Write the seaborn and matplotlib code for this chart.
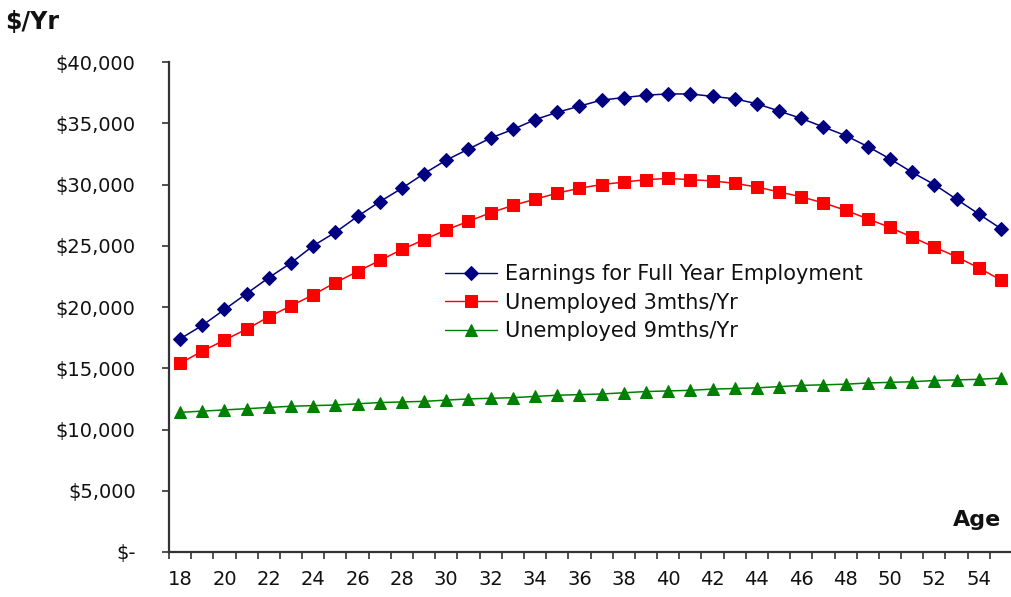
import matplotlib
matplotlib.use("Agg")
import matplotlib.pyplot as plt
import seaborn as sns
import pandas as pd
import numpy as np
from matplotlib.ticker import FuncFormatter, FixedLocator

ages = list(range(18, 56))
full_year = [17400, 18500, 19800, 21100, 22400, 23600, 25000, 26100, 27400, 28600,
             29700, 30900, 32000, 32900, 33800, 34500, 35300, 35900, 36400, 36900,
             37100, 37300, 37400, 37400, 37200, 37000, 36600, 36000, 35400, 34700,
             34000, 33100, 32100, 31000, 30000, 28800, 27600, 26400]
unemp3 = [15400, 16400, 17300, 18200, 19200, 20100, 21000, 22000, 22900, 23800,
          24700, 25500, 26300, 27000, 27700, 28300, 28800, 29300, 29700, 30000,
          30200, 30400, 30500, 30400, 30300, 30100, 29800, 29400, 29000, 28500,
          27900, 27200, 26500, 25700, 24900, 24100, 23200, 22200]
unemp9 = [11400, 11500, 11600, 11700, 11800, 11900, 11950, 12000, 12100, 12200,
          12250, 12300, 12400, 12500, 12550, 12600, 12700, 12800, 12850, 12900,
          13000, 13100, 13150, 13200, 13300, 13350, 13400, 13500, 13600, 13650,
          13700, 13800, 13850, 13900, 14000, 14050, 14100, 14200]
series_names = ["Earnings for Full Year Employment", "Unemployed 3mths/Yr", "Unemployed 9mths/Yr"]

df = pd.DataFrame({
    "Age": ages * 3,
    "Value": full_year + unemp3 + unemp9,
    "Series": [series_names[0]] * len(ages) + [series_names[1]] * len(ages) + [series_names[2]] * len(ages),
})

sns.set_style("white")
plt.rcParams["font.family"] = ["DejaVu Sans"]
plt.rcParams["xtick.bottom"] = True
plt.rcParams["ytick.left"] = True

fig = plt.figure(figsize=(10.12, 5.97), dpi=100)
ax = fig.add_axes([0.167, 0.0754, 0.833, 0.8206])

palette = {series_names[0]: "#000080", series_names[1]: "#FF0000", series_names[2]: "#008000"}
markers = {series_names[0]: "D", series_names[1]: "s", series_names[2]: "^"}
sizes_m = {series_names[0]: 7.5, series_names[1]: 8, series_names[2]: 8}

for name in series_names:
    sub = df[df["Series"] == name]
    sns.lineplot(data=sub, x="Age", y="Value", ax=ax, color=palette[name],
                 marker=markers[name], markersize=sizes_m[name], markeredgecolor=palette[name],
                 linewidth=1.1, label=name)

ax.set_xlim(17.5, 55.5)
ax.set_ylim(0, 40000)
ax.set_yticks(np.arange(0, 40001, 5000))
ax.yaxis.set_major_formatter(FuncFormatter(lambda v, p: "$-" if v == 0 else f"${int(v):,}"))
ax.xaxis.set_major_locator(FixedLocator([a for a in ages if a % 2 == 0]))
ax.xaxis.set_minor_locator(FixedLocator([a - 0.5 for a in ages] + [55.5]))
ax.tick_params(axis="x", which="major", bottom=True, length=0, pad=13, labelsize=14, labelcolor="#111111")
ax.tick_params(axis="x", which="minor", bottom=True, length=5, width=1.2, color="#333333", direction="out")
ax.tick_params(axis="y", which="major", left=True, length=5, width=1.2, color="#333333", direction="out",
               labelsize=14, pad=19, labelcolor="#111111")
ax.set_xlabel("")
ax.set_ylabel("")
for s in ["top", "right"]:
    ax.spines[s].set_visible(False)
for s in ["left", "bottom"]:
    ax.spines[s].set_color("#333333")
    ax.spines[s].set_linewidth(1.6)

leg = ax.legend(loc="upper left", bbox_to_anchor=(0.318, 0.605), frameon=False, fontsize=15,
                handlelength=2.5, labelspacing=0.42, handletextpad=0.35, borderaxespad=0,
                labelcolor="#111111")
for h in leg.get_lines():
    h.set_linewidth(1.0)

fig.text(0.005, 0.963, "$/Yr", fontsize=17, fontweight="bold", ha="left", va="center", color="#111111")
ax.text(0.987, 0.066, "Age", transform=ax.transAxes, fontsize=16, fontweight="bold",
        ha="right", va="center", color="#111111")

fig.savefig("out.png", dpi=100)
